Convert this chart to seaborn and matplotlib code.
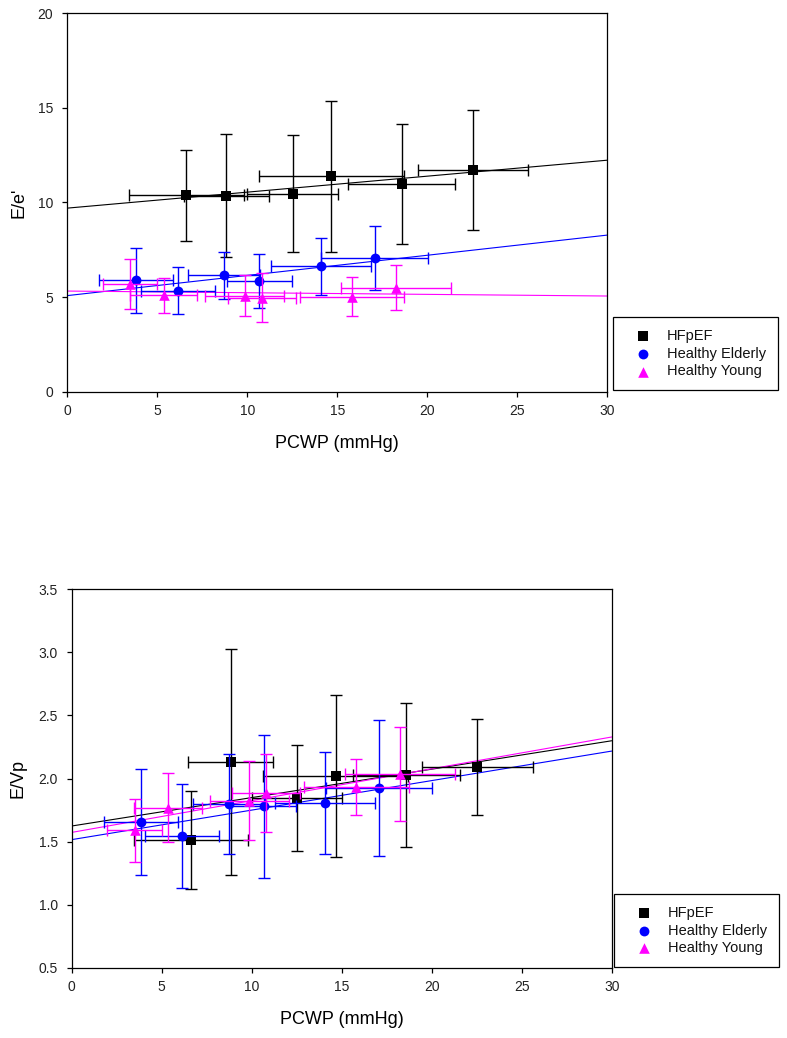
import numpy as np
import pandas as pd
import matplotlib
matplotlib.use("Agg")
import matplotlib.pyplot as plt
from matplotlib.ticker import FormatStrFormatter
import seaborn as sns

# ---------------- data ----------------
groups = ["HFpEF", "Healthy Elderly", "Healthy Young"]

pcwp_hfpef = [6.62, 8.84, 12.52, 14.66, 18.58, 22.54]
pcwp_err_hfpef = [3.18, 2.36, 2.52, 4.03, 2.97, 3.06]
ee_hfpef = [10.38, 10.35, 10.47, 11.39, 10.98, 11.72]
ee_err_hfpef = [2.40, 3.25, 3.08, 4.00, 3.16, 3.19]
evp_hfpef = [1.514, 2.133, 1.846, 2.019, 2.027, 2.088]
evp_err_hfpef = [0.39, 0.895, 0.42, 0.645, 0.57, 0.38]

pcwp_elderly = [3.83, 6.14, 8.72, 10.66, 14.08, 17.07]
pcwp_err_elderly = [2.05, 2.05, 2.00, 1.80, 2.78, 2.95]
ee_elderly = [5.885, 5.345, 6.15, 5.855, 6.62, 7.07]
ee_err_elderly = [1.72, 1.245, 1.24, 1.425, 1.50, 1.68]
evp_elderly = [1.652, 1.543, 1.798, 1.780, 1.809, 1.926]
evp_err_elderly = [0.42, 0.41, 0.395, 0.565, 0.405, 0.54]

pcwp_young = [3.49, 5.35, 9.86, 10.80, 15.82, 18.25]
pcwp_err_young = [1.52, 1.88, 2.19, 1.88, 2.90, 3.05]
ee_young = [5.68, 5.10, 5.08, 4.97, 5.03, 5.50]
ee_err_young = [1.32, 0.93, 1.09, 1.28, 1.03, 1.20]
evp_young = [1.590, 1.770, 1.825, 1.885, 1.934, 2.035]
evp_err_young = [0.25, 0.27, 0.31, 0.31, 0.22, 0.37]

x_ticks = [0, 5, 10, 15, 20, 25, 30]
ee_ticks = [0, 5, 10, 15, 20]
evp_ticks = [0.5, 1.0, 1.5, 2.0, 2.5, 3.0, 3.5]

colors = {"HFpEF": "#000000", "Healthy Elderly": "#0000FF", "Healthy Young": "#FF00FF"}
markers = {"HFpEF": "s", "Healthy Elderly": "o", "Healthy Young": "^"}
msizes = {"HFpEF": 46, "Healthy Elderly": 50, "Healthy Young": 58}

frames = []
for g, px, pxe, ee, eee, ev, eve in [
    ("HFpEF", pcwp_hfpef, pcwp_err_hfpef, ee_hfpef, ee_err_hfpef, evp_hfpef, evp_err_hfpef),
    ("Healthy Elderly", pcwp_elderly, pcwp_err_elderly, ee_elderly, ee_err_elderly, evp_elderly, evp_err_elderly),
    ("Healthy Young", pcwp_young, pcwp_err_young, ee_young, ee_err_young, evp_young, evp_err_young),
]:
    frames.append(pd.DataFrame({"group": g, "pcwp": px, "pcwp_err": pxe,
                                "ee": ee, "ee_err": eee, "evp": ev, "evp_err": eve}))
df = pd.concat(frames, ignore_index=True)

# ---------------- style ----------------
sns.set_style("ticks")
plt.rcParams["font.family"] = ["Liberation Sans", "DejaVu Sans"]
plt.rcParams["axes.linewidth"] = 0.9

fig = plt.figure(figsize=(7.87, 10.38), dpi=100)
W, H = 787.0, 1038.0
ax_top = fig.add_axes([67.3 / W, 1 - 391.7 / H, 540 / W, 378.4 / H])
ax_bot = fig.add_axes([71.7 / W, 1 - 967.7 / H, 540 / W, 378.4 / H])


def draw_panel(ax, ycol, ylabel, ylim, yticks, yfmt, legend_anchor, ylabel_x):
    ax.set_xlim(0, 30)
    ax.set_ylim(*ylim)
    for i, g in enumerate(groups):
        sub = df[df["group"] == g]
        c = colors[g]
        ax.errorbar(sub["pcwp"], sub[ycol], xerr=sub["pcwp_err"], yerr=sub[ycol + "_err"],
                    fmt="none", ecolor=c, elinewidth=1.0, capsize=4, capthick=1.0,
                    zorder=2 + 2 * i)
        sns.regplot(data=sub, x="pcwp", y=ycol, ax=ax, scatter=False, ci=None,
                    truncate=False, color=c, line_kws={"lw": 0.8, "zorder": 1.5})
        sns.scatterplot(data=sub, x="pcwp", y=ycol, ax=ax, marker=markers[g], color=c,
                        s=msizes[g], linewidth=0, label=g, zorder=3 + 2 * i)
    ax.set_xlim(0, 30)
    ax.set_ylim(*ylim)
    ax.set_xticks(x_ticks)
    ax.set_yticks(yticks)
    if yfmt:
        ax.yaxis.set_major_formatter(FormatStrFormatter(yfmt))
    for sp in ax.spines.values():
        sp.set_visible(True)
        sp.set_color("black")
        sp.set_linewidth(0.9)
    ax.tick_params(axis="both", direction="out", length=3.6, width=0.9, colors="black",
                   labelsize=10, labelcolor="#222222")
    ax.tick_params(axis="y", pad=6.5)
    ax.tick_params(axis="x", pad=5.5)
    ax.set_xlabel("PCWP (mmHg)", fontsize=13, color="black")
    ax.set_ylabel(ylabel, fontsize=13, color="black")
    ax.xaxis.set_label_coords(0.5, -0.115)
    ax.yaxis.set_label_coords(ylabel_x, 0.5)
    handles, labels = ax.get_legend_handles_labels()
    leg = ax.legend(handles, labels, loc="lower left", bbox_to_anchor=legend_anchor,
                    bbox_transform=ax.transAxes, borderaxespad=0, frameon=True,
                    fancybox=False, edgecolor="black", framealpha=1, fontsize=10.5,
                    borderpad=0.8, labelspacing=0.25, handlelength=2.5,
                    handletextpad=0.4)
    leg.get_frame().set_linewidth(0.9)
    for t in leg.get_texts():
        t.set_color("#111111")


draw_panel(ax_top, "ee", "E/e'", (0, 20), ee_ticks, None, (1.0106, 0.0045), -0.0746)
draw_panel(ax_bot, "evp", "E/Vp", (0.5, 3.5), evp_ticks, "%.1f", (1.0043, 0.002), -0.0828)

fig.savefig("out.png", dpi=100, facecolor="white")
